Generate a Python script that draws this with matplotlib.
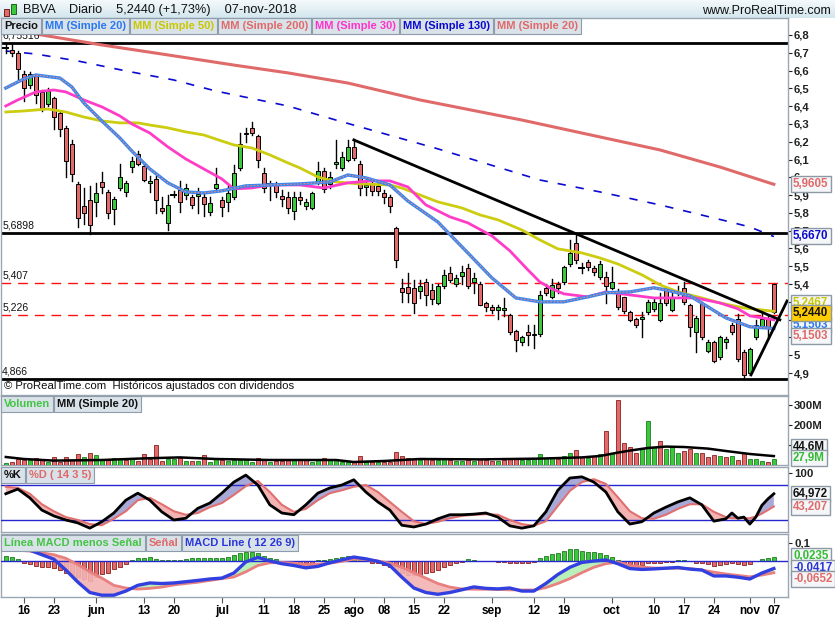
import matplotlib
matplotlib.use('Agg')
import numpy as np
import matplotlib.pyplot as plt
from matplotlib.patches import Rectangle
from matplotlib.colors import LinearSegmentedColormap

W, H = 835, 620
plt.rcParams['font.family'] = ['Liberation Sans', 'DejaVu Sans']

# ---- data ----
# candle index 0 = 11-may-2018 ... 128 = 07-nov-2018
opens = [6.728, 6.715, 6.70, 6.58, 6.52, 6.575, 6.48, 6.41, 6.445, 6.36, 6.28, 6.19, 5.96, 5.84, 5.87, 5.86, 5.975, 5.92, 5.82, 5.94,
         5.92, 6.06, 6.13, 6.065, 5.97, 5.99, 5.83, 5.745, 5.90, 5.93, 5.90, 5.89, 5.895, 5.89, 5.805, 5.94, 5.87, 5.86, 5.89, 6.05,
         6.245, 6.28, 6.23, 6.025, 5.965, 5.96, 5.895, 5.89, 5.81, 5.89, 5.84, 5.83, 5.97, 6.035, 5.96, 6.075, 6.05, 6.10, 6.17, 6.075,
         5.945, 5.96, 5.95, 5.91, 5.89, 5.715, 5.38, 5.385, 5.38, 5.36, 5.41, 5.367, 5.295, 5.39, 5.46, 5.40, 5.446, 5.49, 5.41, 5.40,
         5.294, 5.27, 5.255, 5.255, 5.227, 5.137, 5.075, 5.13, 5.115, 5.12, 5.38, 5.33, 5.40, 5.41, 5.51, 5.63, 5.49, 5.525, 5.49, 5.44,
         5.44, 5.38, 5.36, 5.33, 5.244, 5.204, 5.204, 5.244, 5.26, 5.20, 5.367, 5.255, 5.35, 5.378, 5.283, 5.13, 5.29, 5.025, 5.075, 4.99,
         5.075, 5.17, 5.204, 5.02, 4.90, 5.10, 5.165, 5.21, 5.40]
highs = [6.755, 6.755, 6.71, 6.60, 6.59, 6.58, 6.49, 6.50, 6.45, 6.37, 6.29, 6.21, 5.975, 5.94, 5.95, 5.97, 6.03, 5.93, 5.89, 6.075,
         5.98, 6.115, 6.15, 6.07, 6.01, 6.01, 5.89, 5.90, 5.925, 5.98, 5.96, 5.90, 5.94, 5.91, 5.89, 6.05, 5.89, 5.95, 6.07, 6.25,
         6.28, 6.31, 6.24, 6.05, 5.98, 5.975, 5.93, 5.92, 5.92, 5.92, 5.88, 5.92, 6.086, 6.05, 6.03, 6.21, 6.14, 6.21, 6.215, 6.09,
         5.99, 5.985, 5.97, 5.93, 5.90, 5.72, 5.43, 5.463, 5.42, 5.42, 5.43, 5.40, 5.40, 5.48, 5.497, 5.45, 5.50, 5.51, 5.46, 5.41,
         5.30, 5.28, 5.28, 5.32, 5.23, 5.14, 5.11, 5.17, 5.17, 5.36, 5.40, 5.43, 5.41, 5.50, 5.65, 5.676, 5.52, 5.535, 5.50, 5.53,
         5.47, 5.497, 5.37, 5.33, 5.25, 5.21, 5.245, 5.31, 5.32, 5.35, 5.38, 5.35, 5.39, 5.41, 5.29, 5.22, 5.30, 5.085, 5.08, 5.11,
         5.10, 5.18, 5.23, 5.03, 5.04, 5.20, 5.25, 5.22, 5.40]
lows = [6.70, 6.68, 6.55, 6.43, 6.50, 6.42, 6.37, 6.40, 6.27, 6.23, 6.00, 5.98, 5.72, 5.74, 5.68, 5.78, 5.91, 5.77, 5.74, 5.93,
        5.895, 6.03, 6.07, 5.98, 5.92, 5.80, 5.80, 5.705, 5.89, 5.805, 5.88, 5.83, 5.80, 5.78, 5.79, 5.93, 5.78, 5.81, 5.88, 6.04,
        6.20, 6.24, 6.06, 5.92, 5.87, 5.89, 5.84, 5.80, 5.765, 5.85, 5.82, 5.82, 5.96, 5.92, 5.94, 6.05, 6.04, 6.09, 6.10, 5.90,
        5.90, 5.90, 5.90, 5.856, 5.805, 5.497, 5.30, 5.30, 5.24, 5.32, 5.28, 5.29, 5.29, 5.38, 5.41, 5.39, 5.40, 5.38, 5.35, 5.283,
        5.25, 5.24, 5.204, 5.22, 5.12, 5.025, 5.06, 5.06, 5.04, 5.11, 5.34, 5.32, 5.35, 5.40, 5.50, 5.52, 5.46, 5.48, 5.45, 5.43,
        5.294, 5.37, 5.26, 5.24, 5.19, 5.16, 5.10, 5.23, 5.25, 5.19, 5.28, 5.25, 5.34, 5.29, 5.11, 5.02, 5.09, 5.02, 4.96, 4.98,
        5.04, 5.12, 4.97, 4.866, 4.89, 5.09, 5.16, 5.10, 5.24]
closes = [6.728, 6.70, 6.61, 6.50, 6.58, 6.46, 6.39, 6.485, 6.34, 6.27, 6.09, 6.02, 5.77, 5.80, 5.73, 5.91, 5.945, 5.80, 5.88, 6.00,
          5.97, 6.09, 6.075, 5.985, 5.98, 5.87, 5.81, 5.845, 5.90, 5.86, 5.94, 5.845, 5.905, 5.85, 5.855, 5.96, 5.835, 5.91, 6.025, 6.19,
          6.25, 6.25, 6.10, 5.94, 5.965, 5.92, 5.88, 5.83, 5.89, 5.87, 5.86, 5.91, 6.035, 5.935, 6.00, 6.086, 6.115, 6.17, 6.11, 5.94,
          5.955, 5.925, 5.925, 5.89, 5.84, 5.535, 5.356, 5.35, 5.295, 5.39, 5.34, 5.317, 5.39, 5.45, 5.42, 5.435, 5.468, 5.39, 5.435, 5.283,
          5.27, 5.255, 5.27, 5.265, 5.13, 5.086, 5.10, 5.115, 5.12, 5.34, 5.35, 5.395, 5.38, 5.497, 5.575, 5.535, 5.49, 5.497, 5.468, 5.51,
          5.39, 5.41, 5.27, 5.25, 5.20, 5.17, 5.216, 5.30, 5.30, 5.294, 5.294, 5.33, 5.36, 5.30, 5.16, 5.21, 5.10, 5.075, 4.97, 5.10,
          5.09, 5.13, 4.98, 4.89, 5.036, 5.17, 5.204, 5.16, 5.244]

volume_m = [8, 13, 28, 25, 25, 33, 25, 13, 38, 17, 38, 25, 53, 38, 58, 50, 25, 25, 33, 28,
            25, 33, 20, 53, 28, 100, 20, 28, 28, 37, 20, 20, 20, 50, 17, 28, 25, 20, 25, 25,
            28, 17, 33, 28, 17, 20, 20, 28, 25, 25, 25, 17, 25, 33, 25, 28, 17, 17, 17, 45,
            17, 17, 17, 17, 17, 67, 47, 33, 30, 25, 30, 25, 25, 30, 25, 20, 20, 25, 20, 30,
            25, 20, 20, 25, 30, 35, 25, 25, 30, 55, 35, 40, 30, 45, 60, 75, 40, 35, 45, 55,
            170, 60, 325, 110, 90, 60, 85, 220, 90, 120, 80, 95, 60, 70, 80, 60, 60, 40, 50, 45,
            40, 45, 25, 62, 30, 28, 22, 17, 28]
vol_ma_idx = [0, 3, 8, 16, 23, 29, 35, 44, 55, 58, 63, 69, 79, 89, 96, 99, 102, 104, 107, 110, 113, 117, 120, 124, 128]
vol_ma_m = [40, 30, 22, 25, 33, 38, 30, 25, 25, 15, 20, 30, 28, 32, 38, 45, 62, 72, 85, 92, 90, 82, 70, 55, 44.6]

sma20_idx = [0, 3, 5, 9, 11, 13, 16, 19, 21, 24, 27, 30, 33, 36, 40, 49, 54, 57, 60, 64, 67, 72, 77, 81, 85, 89, 93, 97, 100, 104, 108, 110, 114, 117, 120, 124, 128]
sma20 = [6.502, 6.553, 6.575, 6.558, 6.508, 6.418, 6.317, 6.221, 6.148, 6.047, 5.969, 5.918, 5.912, 5.924, 5.952, 5.963, 5.974, 6.013, 5.997, 5.957,
         5.867, 5.749, 5.575, 5.435, 5.322, 5.300, 5.300, 5.328, 5.351, 5.356, 5.379, 5.367, 5.334, 5.272, 5.210, 5.160, 5.1503]
sma30_idx = [0, 2, 5, 8, 10, 13, 16, 19, 21, 24, 27, 30, 33, 36, 38, 41, 44, 49, 53, 57, 61, 64, 67, 70, 74, 77, 81, 84, 87, 89, 91, 93, 97, 100, 104, 108, 115, 119, 122, 124, 128]
sma30 = [6.401, 6.435, 6.480, 6.491, 6.480, 6.435, 6.396, 6.345, 6.300, 6.249, 6.171, 6.103, 6.047, 5.991, 5.935, 5.940, 5.957, 5.957, 5.940, 5.969,
         5.980, 5.980, 5.946, 5.845, 5.778, 5.744, 5.671, 5.587, 5.480, 5.412, 5.373, 5.345, 5.328, 5.356, 5.339, 5.322, 5.322, 5.294, 5.261, 5.221, 5.199]
sma50_idx = [0, 3, 7, 10, 13, 16, 19, 22, 24, 27, 30, 33, 36, 38, 41, 44, 47, 49, 52, 55, 59, 64, 66, 69, 72, 76, 79, 82, 86, 89, 92, 96, 99, 102, 106, 109, 112, 116, 119, 123, 128]
sma50 = [6.367, 6.373, 6.384, 6.367, 6.339, 6.317, 6.306, 6.306, 6.294, 6.278, 6.255, 6.238, 6.204, 6.182, 6.165, 6.126, 6.081, 6.053, 6.002, 5.974,
         5.963, 5.957, 5.940, 5.901, 5.862, 5.828, 5.789, 5.761, 5.704, 5.648, 5.598, 5.575, 5.547, 5.513, 5.452, 5.396, 5.356, 5.322, 5.294, 5.266, 5.2467]
sma130_idx = [0, 5, 12, 20, 28, 35, 43, 47, 55, 72, 89, 99, 109, 120, 124, 128]
sma130 = [6.710, 6.693, 6.654, 6.598, 6.547, 6.485, 6.429, 6.401, 6.322, 6.160, 5.985, 5.918, 5.845, 5.755, 5.721, 5.667]
sma200_idx = [0, 6, 16, 27, 38, 47, 57, 69, 86, 99, 109, 119, 128]
sma200 = [6.839, 6.800, 6.744, 6.688, 6.631, 6.587, 6.530, 6.435, 6.322, 6.227, 6.154, 6.058, 5.9605]

levels_black = [6.75516, 5.6898, 4.866]
levels_red = [5.407, 5.226]
trend_down = ([58, 129.0], [6.21, 5.199])
trend_up = ([124.2, 130.2], [4.89, 5.305])

stoch_idx = list(range(0, 121, 2)) + [121, 122, 123, 124, 125, 126, 127, 128]
stoch_k = [65, 73, 58, 37, 27, 20, 15, 6, 17, 32, 54, 66, 54, 34, 20, 23, 40, 49, 66, 85,
           97, 80, 46, 32, 29, 46, 66, 75, 80, 89, 68, 51, 37, 11, 8, 13, 22, 29, 29, 30,
           32, 25, 10, 6, 10, 34, 71, 92, 94, 85, 68, 34, 13, 17, 32, 42, 51, 58, 46, 18,
           22, 32, 23, 25, 13, 25, 45, 56, 64.972]
stoch_d = [77, 75, 65, 47, 35, 25, 20, 13, 11, 22, 35, 54, 58, 47, 35, 29, 32, 42, 49, 63,
           78, 87, 68, 46, 34, 39, 54, 66, 71, 77, 80, 68, 51, 34, 18, 13, 17, 23, 27, 29,
           30, 29, 20, 13, 10, 18, 44, 70, 85, 90, 82, 59, 35, 23, 22, 29, 39, 47, 47, 34,
           25, 23, 23, 23, 23, 26, 31, 37, 43.207]

macd_idx = list(range(0, 129, 2))
macd = [0.085, 0.075, 0.06, 0.035, 0.01, -0.05, -0.117, -0.175, -0.19, -0.19, -0.167, -0.135, -0.122, -0.125, -0.122, -0.115, -0.108, -0.10, -0.095, -0.067,
        -0.005, 0.02, 0.0, -0.015, -0.025, -0.038, -0.03, -0.01, 0.006, 0.022, 0.012, -0.002, -0.025, -0.09, -0.15, -0.175, -0.185, -0.175, -0.16, -0.144,
        -0.152, -0.155, -0.15, -0.167, -0.167, -0.125, -0.075, -0.035, -0.008, 0.0, 0.006, -0.015, -0.042, -0.047, -0.044, -0.04, -0.036, -0.045, -0.05, -0.083,
        -0.083, -0.09, -0.10, -0.067, -0.0417]
signal = [0.06, 0.06, 0.055, 0.045, 0.035, 0.015, -0.02, -0.06, -0.095, -0.135, -0.15, -0.156, -0.152, -0.145, -0.133, -0.125, -0.118, -0.108, -0.098, -0.089,
          -0.06, -0.025, -0.01, -0.008, -0.012, -0.02, -0.018, -0.012, -0.002, 0.011, 0.008, 0.0, -0.012, -0.035, -0.065, -0.095, -0.125, -0.145, -0.155, -0.157,
          -0.157, -0.158, -0.16, -0.161, -0.161, -0.148, -0.125, -0.098, -0.065, -0.035, -0.015, -0.006, -0.025, -0.033, -0.039, -0.04, -0.04, -0.042, -0.05, -0.062,
          -0.072, -0.08, -0.088, -0.078, -0.0652]
hist = [0.028, 0.024, 0.011, -0.009, -0.017, -0.026, -0.035, -0.035, -0.037, -0.05, -0.065, -0.078, -0.087, -0.102, -0.109, -0.087, -0.072, -0.065, -0.046, -0.031,
        -0.019, 0.006, 0.015, 0.015, 0.02, 0.009, 0.006, 0.006, 0.006, 0.006, 0.011, 0.015, 0.015, 0.015, 0.015, 0.019, 0.019, 0.024, 0.033, 0.043,
        0.048, 0.048, 0.043, 0.028, 0.019, 0.009, -0.009, -0.013, -0.013, -0.013, -0.013, -0.009, 0.006, 0.006, 0.009, 0.015, 0.024, 0.028, 0.024, 0.015,
        0.006, -0.009, -0.013, -0.022, -0.031, -0.05, -0.069, -0.078, -0.078, -0.078, -0.069, -0.059, -0.05, -0.035, -0.022, -0.013, -0.004, 0.011, 0.006, 0.002,
        0.001, -0.002, -0.003, -0.004, -0.009, -0.013, -0.013, -0.009, -0.006, 0.015, 0.028, 0.039, 0.046, 0.056, 0.065, 0.065, 0.057, 0.052, 0.048, 0.043,
        0.033, 0.02, 0.006, -0.009, -0.017, -0.022, -0.022, -0.013, -0.009, -0.009, -0.007, -0.004, 0.006, 0.006, -0.002, -0.009, -0.013, -0.019, -0.028, -0.022,
        -0.017, -0.013, -0.019, -0.022, -0.019, 0.002, 0.011, 0.017, 0.0235]

tick_idx = [3, 8, 15, 23, 28, 36, 43, 48, 53, 58, 63, 68, 73, 81, 88, 93, 101, 108, 113, 118, 124, 128]
tick_lab = ['16', '23', 'jun', '13', '20', 'jul', '11', '18', '25', 'ago', '08', '15', '22', 'sep', '12', '19', 'oct', '10', '17', '24', 'nov', '07']

GREEN, RED = '#3cc83c', '#e26a6a'


def fx(x):
    return x / W


def fy(y):
    return 1 - y / H


fig = plt.figure(figsize=(W / 100, H / 100), dpi=100)
fig.patch.set_facecolor('white')
renderer = fig.canvas.get_renderer()

# title bar
ax_t = fig.add_axes([0, fy(18), 1, 18 / H])
grad = LinearSegmentedColormap.from_list('g', ['#f4f9fb', '#d3e6ee'])
ax_t.imshow(np.linspace(0, 1, 30).reshape(-1, 1), aspect='auto', cmap=grad, extent=[0, 1, 0, 1])
ax_t.axis('off')
fig.add_artist(Rectangle((fx(4), fy(16)), 5 / W, 7 / H, transform=fig.transFigure, fc=RED, ec='#702020', lw=0.7))
fig.add_artist(Rectangle((fx(11), fy(14)), 5 / W, 10 / H, transform=fig.transFigure, fc=GREEN, ec='#206020', lw=0.7))
fig.text(fx(23), fy(10), 'BBVA    Diario    5,2440 (+1,73%)    07-nov-2018', fontsize=9.2, color='#111111', va='center')
fig.text(fx(831), fy(11), 'www.ProRealTime.com', fontsize=9, color='#111111', va='center', ha='right')

AX_W = 787 / W
ax_p = fig.add_axes([0.001, fy(395), AX_W, (395 - 18) / H])
ax_v = fig.add_axes([0.001, fy(465), AX_W, 69 / H])
ax_s = fig.add_axes([0.001, fy(532), AX_W, 65 / H])
ax_m = fig.add_axes([0.001, fy(597), AX_W, 63 / H])

for ax in (ax_p, ax_v, ax_s, ax_m):
    ax.set_xlim(-0.83, 130.33)
    for s in ax.spines.values():
        s.set_color('#9aa6b2')
        s.set_linewidth(1)
    ax.yaxis.tick_right()
    ax.tick_params(axis='y', direction='out', length=3, width=0.8, pad=1.5, labelsize=8.2, colors='#222222')
    ax.tick_params(axis='x', length=0, labelbottom=False)

# ---- price panel ----
ax_p.set_ylim(4.7764, 6.8955)
idx = np.arange(len(closes))
for i in idx:
    o, h, l, c = opens[i], highs[i], lows[i], closes[i]
    ax_p.plot([i, i], [l, h], color='black', lw=1, zorder=3)
    if abs(c - o) < 0.004:
        ax_p.plot([i - 0.4, i + 0.4], [c, c], color='black', lw=1.4, zorder=4)
    else:
        ax_p.add_patch(Rectangle((i - 0.34, min(o, c)), 0.68, abs(c - o), fc=GREEN if c > o else RED,
                                 ec='black', lw=0.7, zorder=4))

for lv in levels_black:
    ax_p.axhline(lv, color='black', lw=2, zorder=2)
for lv in levels_red:
    ax_p.axhline(lv, color='#ff1010', lw=1, ls=(0, (7, 5)), zorder=2)
for lv, txt in zip(levels_black + levels_red, ['6,75516', '5,6898', '4,866', '5,407', '5,226']):
    ax_p.text(-0.6, lv + 0.012, txt, fontsize=7.5, color='#111111', va='bottom', ha='left', zorder=6)

ax_p.plot(sma200_idx, sma200, color='#e06a6a', lw=2.2, zorder=2)
ax_p.plot(sma130_idx, sma130, color='#0a0ad0', lw=1.2, ls=(0, (5, 6)), zorder=2)
ax_p.plot(sma50_idx, sma50, color='#cccc10', lw=2, zorder=5)
ax_p.plot(sma30_idx, sma30, color='#ff3cc8', lw=2, zorder=5)
ax_p.plot(sma20_idx, sma20, color='#3a86f0', lw=2.4, zorder=5)
ax_p.plot(sma20_idx, sma20, color='#e88a7a', lw=0.8, ls=(0, (1.5, 1.5)), zorder=5)
ax_p.plot(trend_down[0], trend_down[1], color='black', lw=2, zorder=6)
ax_p.plot(trend_up[0], trend_up[1], color='black', lw=2, zorder=6)

pt = np.round(np.arange(4.9, 6.81, 0.1), 1)
ax_p.set_yticks(pt)
ax_p.set_yticklabels([f'{v:.1f}'.rstrip('0').rstrip('.').replace('.', ',') for v in pt], fontweight='bold')
ax_p.text(0.004, 0.024, '\u00a9 ProRealTime.com  Hist\u00f3ricos ajustados con dividendos', transform=ax_p.transAxes,
          fontsize=8.2, color='#111111', va='center')

# ---- volume panel ----
ax_v.set_ylim(0, 345e6)
vol = np.array(volume_m) * 1e6
up = np.r_[True, np.diff(closes) >= 0]
ax_v.bar(idx, vol, width=0.62, color=[GREEN if u else RED for u in up],
         edgecolor=['#1f7a1f' if u else '#8a2020' for u in up], lw=0.6, zorder=3)
ax_v.plot(vol_ma_idx, np.array(vol_ma_m) * 1e6, color='black', lw=1.8, zorder=4)
ax_v.set_yticks([100e6, 200e6, 300e6])
ax_v.set_yticklabels(['100M', '200M', '300M'], fontweight='bold')

# ---- stochastic panel ----
ax_s.set_ylim(-0.6, 110.9)
k = np.array(stoch_k, float)
d = np.array(stoch_d, float)
ax_s.fill_between(stoch_idx, k, d, where=k >= d, interpolate=True, color='#a9a9d8', lw=0, zorder=2)
ax_s.fill_between(stoch_idx, k, d, where=k < d, interpolate=True, color='#f3b3b3', lw=0, zorder=2)
ax_s.axhline(80, color='#2626d0', lw=1, zorder=3)
ax_s.axhline(20, color='#2626d0', lw=1, zorder=3)
ax_s.plot(stoch_idx, d, color='#e07070', lw=1.5, zorder=4)
ax_s.plot(stoch_idx, k, color='black', lw=2, zorder=5)
ax_s.set_yticks([100])
ax_s.set_yticklabels(['100'], fontweight='bold')

# ---- MACD panel ----
ax_m.set_ylim(-0.2, 0.15)
hv = np.array(hist)
ax_m.bar(idx, hv, width=0.6, color=[GREEN if v >= 0 else RED for v in hv],
         edgecolor=['#1f7a1f' if v >= 0 else '#8a2020' for v in hv], lw=0.6, zorder=2)
mv = np.array(macd)
sv = np.array(signal)
ax_m.fill_between(macd_idx, mv, sv, where=mv >= sv, interpolate=True, color='#b2efb2', alpha=0.9, lw=0, zorder=3)
ax_m.fill_between(macd_idx, mv, sv, where=mv < sv, interpolate=True, color='#f3b3b3', alpha=0.9, lw=0, zorder=3)
ax_m.axhline(0, color='#2626d0', lw=1, zorder=4)
ax_m.plot(macd_idx, sv, color='#e88080', lw=2, zorder=5)
ax_m.plot(macd_idx, mv, color='#3340e0', lw=2.4, zorder=6)
ax_m.set_yticks([0.1])
ax_m.set_yticklabels(['0,1'], fontweight='bold')
ax_m.set_xticks(tick_idx)
ax_m.set_xticklabels(tick_lab, fontweight='bold')
ax_m.tick_params(axis='x', length=4, width=0.8, color='#555555', labelbottom=True, labelsize=8.5, pad=2)


# ---- legend boxes ----
def legend_row(items, y, x0=1):
    x = x0
    for txt, col in items:
        t = fig.text(fx(x + 3), fy(y), txt, color=col, fontsize=8.0, fontweight='bold', va='center', ha='left', zorder=11)
        w = t.get_window_extent(renderer).width
        fig.add_artist(Rectangle((fx(x), fy(y + 8)), (w + 6) / W, 16 / H, transform=fig.transFigure,
                                 fc='#d9e2e9', ec='#8e9cab', lw=0.8, zorder=10))
        x += w + 7


legend_row([('Precio', '#111111'), ('MM (Simple 20)', '#2a78f0'), ('MM (Simple 50)', '#c8c800'),
            ('MM (Simple 200)', '#e06a6a'), ('MM (Simple 30)', '#ff33cc'), ('MM (Simple 130)', '#0a0ad0'),
            ('MM (Simple 20)', '#e06a6a')], 26)
legend_row([('Volumen', '#44c444'), ('MM (Simple 20)', '#111111')], 404)
legend_row([('%K', '#111111'), ('%D ( 14 3 5)', '#e06a6a')], 475)
legend_row([('L\u00ednea MACD menos Se\u00f1al', '#44c444'), ('Se\u00f1al', '#e06a6a'),
            ('MACD Line ( 12 26 9)', '#2a36d8')], 543)


# ---- value boxes on the right ----
def value_box(y, txt, col, fc='#f4f6f8', z=12):
    fig.text(fx(793), fy(y), txt, color=col, fontsize=8.3, fontweight='bold', va='center', ha='left', zorder=z,
             bbox=dict(boxstyle='square,pad=0.2', fc=fc, ec='#8d9aa5', lw=1))


value_box(184, '5,9605', '#e06a6a')
value_box(236, '5,6670', '#0a0ad0')
value_box(303, '5,2467', '#c8c800')
value_box(325, '5,1503', '#2a78f0')
value_box(313, '5,2440', '#111111', fc='#ffcc00', z=13)
value_box(336, '5,1503', '#e06a6a', z=13)
value_box(447, '44,6M', '#111111')
value_box(458, '27,9M', '#33bb33', z=13)
value_box(494, '64,972', '#111111')
value_box(507, '43,207', '#e06a6a')
value_box(556, '0,0235', '#33bb33')
value_box(568, '-0,0417', '#2a36d8')
value_box(579, '-0,0652', '#e06a6a', z=13)

fig.savefig('out.png', dpi=100)
